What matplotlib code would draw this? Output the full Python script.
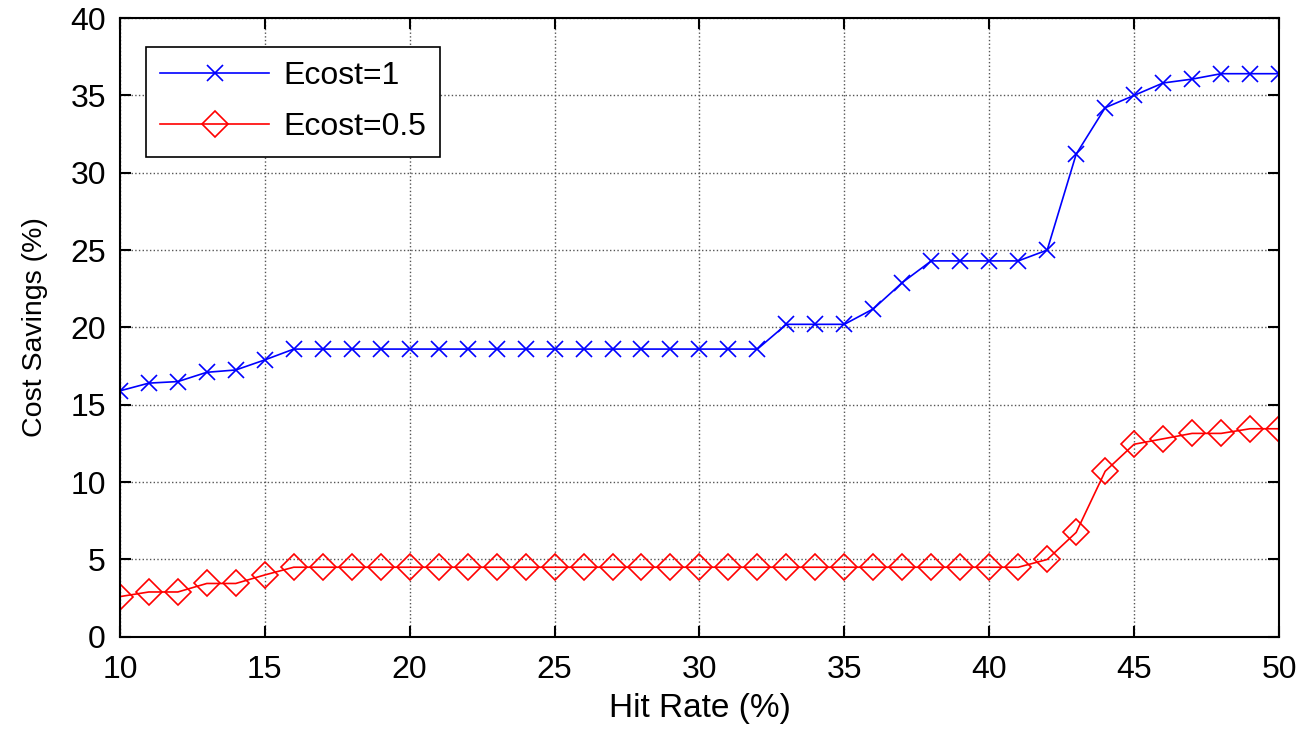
import numpy as np
import matplotlib
matplotlib.use("Agg")
from matplotlib import pyplot as plt

plt.rcParams['font.family'] = ['Liberation Sans', 'DejaVu Sans']

hitRate = np.arange(10, 51)

ecost1 = [15.9, 16.4, 16.5, 17.1, 17.25, 17.9, 18.6, 18.6, 18.6, 18.6,
          18.6, 18.6, 18.6, 18.6, 18.6, 18.6, 18.6, 18.6, 18.6, 18.6,
          18.6, 18.6, 18.6, 20.2, 20.2, 20.2, 21.2, 22.9, 24.3, 24.3,
          24.3, 24.3, 25.0, 31.2, 34.2, 35.0, 35.8, 36.05, 36.4, 36.4,
          36.4]

ecost05 = [2.6, 2.9, 2.9, 3.45, 3.45, 4.0, 4.5, 4.5, 4.5, 4.5,
           4.5, 4.5, 4.5, 4.5, 4.5, 4.5, 4.5, 4.5, 4.5, 4.5,
           4.5, 4.5, 4.5, 4.5, 4.5, 4.5, 4.5, 4.5, 4.5, 4.5,
           4.5, 4.5, 5.0, 6.75, 10.7, 12.45, 12.8, 13.15, 13.15, 13.45,
           13.45]

fig = plt.figure(figsize=(13.03, 7.32), dpi=100)
ax = fig.add_axes([0.092, 0.13, 0.8896, 0.8454])

ax.plot(hitRate, ecost1, color='blue', linewidth=1.2, marker='x',
        markersize=11, markeredgewidth=1.2, label='Ecost=1')
ax.plot(hitRate, ecost05, color='red', linewidth=1.2, marker='D',
        markersize=13, markerfacecolor='none', markeredgewidth=1.2,
        label='Ecost=0.5')

ax.set_xlim(10, 50)
ax.set_ylim(0, 40)
ax.set_xticks(np.arange(10, 51, 5))
ax.set_yticks(np.arange(0, 41, 5))
ax.grid(True, color='#555555', linestyle=':', linewidth=1.0)
ax.tick_params(direction='in', top=True, right=True, length=8, width=1.5,
               labelsize=23, pad=10)
ax.tick_params(axis='x', pad=13)
for s in ax.spines.values():
    s.set_linewidth(1.5)

ax.set_xlabel('Hit Rate (%)', fontsize=24, labelpad=6)
ax.set_ylabel('Cost Savings (%)', fontsize=20.5, labelpad=16)

leg = ax.legend(loc='upper left', bbox_to_anchor=(0.0224, 0.953),
                borderaxespad=0, fontsize=23, fancybox=False,
                edgecolor='black', framealpha=1, handlelength=3.4,
                borderpad=0.45, labelspacing=0.65, handletextpad=0.45)
leg.get_frame().set_linewidth(1.2)

fig.savefig('out.png', dpi=100)
